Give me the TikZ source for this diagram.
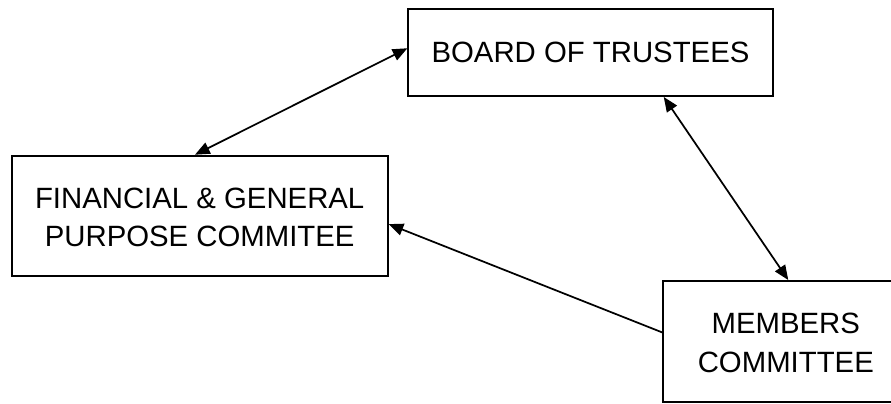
\documentclass[tikz,border=0pt]{standalone}
\usepackage{fontspec}
\setmainfont{Liberation Sans}
\usetikzlibrary{arrows.meta,calc}
\newcommand{\twolines}[2]{\raisebox{-3pt}[\height][\depth]{\begin{tabular}{@{}c@{}}#1\\#2\end{tabular}}}
\begin{document}
\begin{tikzpicture}[x=0.75pt,y=-0.75pt,
  orgbox/.style={draw=black,line width=1.4pt,rectangle,inner sep=0pt,
    font=\fontsize{22}{29}\selectfont},
  link/.style={line width=1.3pt,draw=black},
  tip/.style={-{Triangle[length=11pt,width=9pt]}},
  bitip/.style={{Triangle[length=11pt,width=9pt]}-{Triangle[length=11pt,width=9pt]}}]
\clip (0,0) rectangle (891,403);
\fill[white] (0,0) rectangle (891,403);
\node[orgbox,minimum width=364.4*0.75pt,minimum height=86.7*0.75pt] (board) at (590.5,52.7) {BOARD OF TRUSTEES};
\node[orgbox,minimum width=376*0.75pt,minimum height=120.3*0.75pt] (fin) at (199.7,215.8) {\twolines{FINANCIAL \& GENERAL}{PURPOSE COMMITEE}};
\node[orgbox,minimum width=245*0.75pt,minimum height=120.7*0.75pt] (mem) at (785.8,341.3) {\twolines{MEMBERS}{COMMITTEE}};
\draw[link,bitip] ($(board.north west)!0.45!(board.south west)$) -- ($(fin.north west)!0.4875!(fin.north east)$);
\draw[link,bitip] ($(board.south west)!0.70!(board.south east)$) -- ($(mem.north west)!0.51!(mem.north east)$);
\draw[link,tip] ($(mem.north west)!0.428!(mem.south west)$) -- ($(fin.north east)!0.568!(fin.south east)$);
\end{tikzpicture}
\end{document}
